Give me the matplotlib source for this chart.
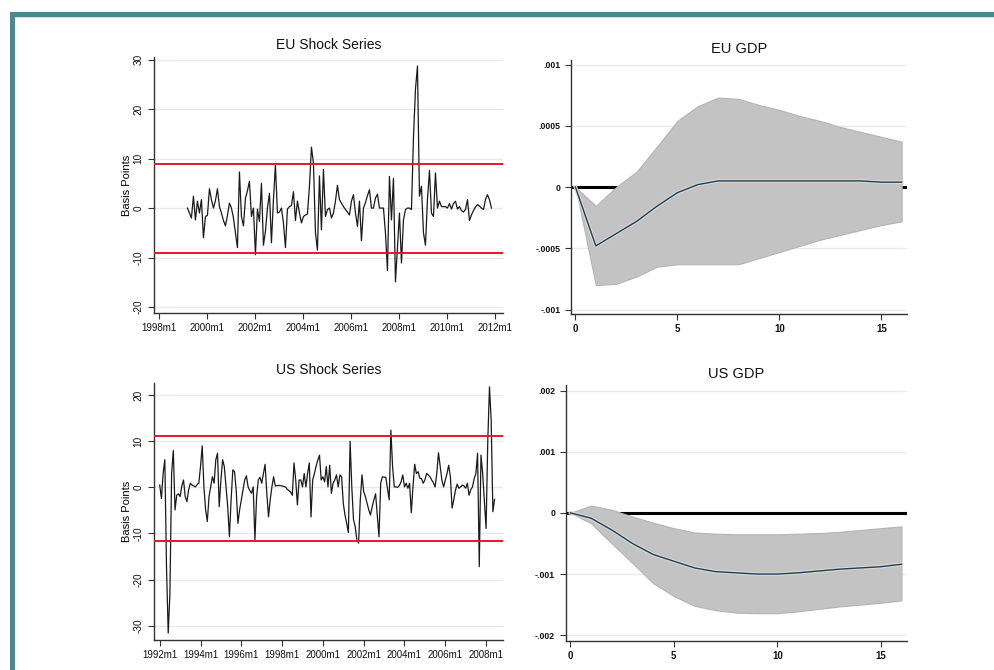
import numpy as np
import matplotlib
matplotlib.use("Agg")
import matplotlib.pyplot as plt
from matplotlib.patches import Rectangle
import matplotlib.patheffects as pe

plt.rcParams['font.family'] = ['Liberation Sans', 'DejaVu Sans']

# --- data ---
# EU shock series, monthly from 1999m3 (basis points)
eu_start = "1999m3"
eu_shock = [
    0, -1, -2, 2.4, -2.4, 1.4, -1, 1.7, -6, -1.7, -1.5,
    3.9, 1.7, 0, 1.5, 3.9, 0.3, -1, -2.5, -3.6, -1.5, 1, 0, -2, -5,
    -8, 7.3, -1.7, -3.6, 2, 3.5, 5.4, -1.7, 0, -9.4, -0.2,
    -2.7, 5, -7.5, -4.7, 0, 3, -7, 1.7, 8.7, -1,
    -0.8, 0, -3, -8, -0.2, 0.3, 0.5, 3.3, -2.5, 1.4, -1,
    -3, -1.7, -1.4, -1.2, 4.4, 12.3, 9.1, -5, -8.5, 6.5, -4.4,
    7.8, -1.7, -0.3, 0, -2, -1, 1.4, 4.6, 1.7, 1,
    0.3, -0.3, -0.8, -1.4, 1.4, 2.7, -1, -3.7, 1.4, -6.6, 0,
    1.1, 2.5, 3.7, 0, 0, 2, 2.8, 0, 0, 0, -5,
    -12.6, 6.4, -2.4, 6, -14.9, -7.8, -1, -11.1, -2.4, -0.3,
    0, 0, -0.3, 14.2, 24, 28.7, 2.4, 4.4, -5, -7.5,
    1.7, 7.6, -1, -1.7, 7.1, 0, 1.4, 0.3, 0.3, 0.3,
    0, 0.9, -0.2, 0.9, 1.4, -0.2, 0.3, -0.5, -0.8, -0.3, 1.7,
    -2.5, -1.4, -0.5, 0.2, 0.7, 0.4, 0, -0.3, 1.7, 2.7, 1.7, 0,
]
eu_bounds = [9.0, -9.1]
eu_xlabels = ["1998m1", "2000m1", "2002m1", "2004m1", "2006m1", "2008m1", "2010m1", "2012m1"]
eu_yticks = [-20, -10, 0, 10, 20, 30]

# US shock series, monthly from 1992m1 (basis points)
us_start = "1992m1"
us_shock = [
    0.5, -2.4, 3, 6, -17.5, -31.6, -23, 3, 8,
    -4.9, -1.7, -1.4, -2, 0.3, 1.6, -2, -3.1, -0.6, 0.9, 0.5, 0.3, 0.1, 0.6, 0.9,
    4.5, 9, 0.1, -4.9, -7.4, -2, 0.1, 2.3, 0.9, 6, 7.4, -4.2, 1.6, 6, 4.5, 0.1,
    -4.2, -10.7, -2.7, 3.8, 3.4, -0.6, -7.8, -4.9, -2.7, -0.6, 1.6, 2.5, 0.1, -0.7,
    -1.3, 0.1, -11.4, -2, 1.6, 2.2, 0.9, 3, 5, -1.3, -6.4, -2.7, 0.1, 2.3,
    0.3, 0.4, 0.4, 0.4, 0.3, 0.2, 0.1, -0.4, -0.7, -1, -1.7,
    5.3, 1.6, -3.8, 1.6, 1.6, 0.1, 3, 0.1, 3, 5.3, -6.4, 1.6, 3, 4.6, 5.9, 7,
    1.6, 2.3, 1.2, 4.5, 0.1, 4.8, -1.3, 0.9, 1.6, 2.7, 0.1, 2.7, 2.3, -3.5, -6,
    -7.8, -9.8, 10, 0.1, -7, -8.5, -11.4, -12.1, -2.7, 2.7, -0.9, -2, -3.5, -4.9,
    -6, -4.2, -2.7, -1.4, -6, -10.7, 0.9, 2.3, 2.2, 2.2, -0.2, -2.7, 12.4, 4.5,
    0.1, 0.1, 0, 0.4, 1.2, 2.7, 0.1, 0.9, -0.2, 0.9, -5.5, 0.1, 5, 3, 3.4, 2,
    1.9, 0.9, 1.6, 3, 2.7, 2.3, 1.6, 1, 0.1, 3, 7.5, 4.5, 1.6, 0.1, 1.6, 3, 4.8,
    2.3, -4.5, -2.7, -0.6, 0.7, -0.2, 0.1, 0.5, 0.3, -0.2, 0.9, -1.7, -0.5, 0.1,
    1.9, 3, 7.4, -17.2, 7, 3, -3, -8.9, 10, 21.8, 14.6, -5.3, -2.6,
]
us_bounds = [11.1, -11.6]
us_xlabels = ["1992m1", "1994m1", "1996m1", "1998m1", "2000m1", "2002m1", "2004m1", "2006m1", "2008m1"]
us_yticks = [-30, -20, -10, 0, 10, 20]

# impulse responses, horizons 0..16
horizon = list(range(17))
eu_irf = [0, -0.00048, -0.00038, -0.00028, -0.000156, -0.000046, 0.00002, 0.00005, 0.00005,
          0.00005, 0.00005, 0.00005, 0.00005, 0.00005, 0.00005, 0.00004, 0.00004]
eu_upper = [0, -0.000153, 0.0, 0.000126, 0.00033, 0.00054, 0.00066, 0.00073, 0.00072,
            0.00067, 0.00063, 0.00058, 0.00054, 0.00049, 0.00045, 0.00041, 0.00037]
eu_lower = [0, -0.0008, -0.00079, -0.00073, -0.00065, -0.00063, -0.00063, -0.00063, -0.00063,
            -0.00058, -0.00053, -0.00048, -0.00043, -0.00039, -0.00035, -0.00031, -0.00028]
eu_gdp_yticks = [-0.001, -0.0005, 0, 0.0005, 0.001]
eu_gdp_ylabels = ["-.001", "-.0005", "0", ".0005", ".001"]

us_irf = [0, -0.000087, -0.00028, -0.0005, -0.00068, -0.00079, -0.0009, -0.00096, -0.00098,
          -0.001, -0.001, -0.00098, -0.00095, -0.00092, -0.0009, -0.00088, -0.00084]
us_upper = [0, 0.00012, 0.00005, -0.00006, -0.00016, -0.00025, -0.00032, -0.00034, -0.00035,
            -0.00035, -0.00035, -0.00034, -0.00033, -0.00031, -0.00028, -0.00025, -0.00022]
us_lower = [0, -0.00017, -0.0005, -0.00082, -0.00115, -0.00136, -0.00152, -0.00159, -0.00163,
            -0.00164, -0.00164, -0.00161, -0.00157, -0.00153, -0.0015, -0.00147, -0.00143]
us_gdp_yticks = [-0.002, -0.001, 0, 0.001, 0.002]
us_gdp_ylabels = ["-.002", "-.001", "0", ".001", ".002"]
gdp_xticks = [0, 5, 10, 15]

GRID = '#e2ebf0'
AXC = '#333333'


def ym_to_month(s, base):
    # "1999m3" -> months since January of the base year
    y, m = s.split("m")
    return (int(y) - base) * 12 + int(m) - 1


def style_axes(ax):
    for side in ['top', 'right']:
        ax.spines[side].set_visible(False)
    for side in ['left', 'bottom']:
        ax.spines[side].set_color(AXC)
        ax.spines[side].set_linewidth(1.0)
    ax.tick_params(colors=AXC, length=4, width=0.8, labelcolor='#111111')
    ax.set_facecolor('white')


def shock_panel(rect, title, values, start, base, bounds, xlabels, yticks, xlim, ylim):
    ax = fig.add_axes(rect)
    style_axes(ax)
    x = ym_to_month(start, base) + np.arange(len(values))
    for yt in yticks:
        ax.axhline(yt, color=GRID, lw=1.0, zorder=0)
    ax.plot(x, values, color='#1a1a1a', lw=0.9, zorder=3)
    for b in bounds:
        ax.axhline(b, color='#e3182d', lw=1.4, zorder=4)
    ax.set_xticks([ym_to_month(l, base) for l in xlabels])
    ax.set_xticklabels(xlabels, fontsize=7)
    ax.set_yticks(yticks)
    ax.set_yticklabels([str(v) for v in yticks], fontsize=7.2, rotation=90, va='center')
    ax.set_xlim(*xlim)
    ax.set_ylim(*ylim)
    ax.set_ylabel("Basis Points", fontsize=8, labelpad=1)
    ax.set_title(title, fontsize=10, color='#111111', pad=6)
    return ax


def gdp_panel(rect, title, irf, lo, hi, yticks, ylabels, ylim):
    ax = fig.add_axes(rect)
    style_axes(ax)
    for yt in yticks:
        ax.axhline(yt, color=GRID, lw=1.0, zorder=0)
    ax.axhline(0, color='black', lw=2.2, zorder=1)
    ax.fill_between(horizon, lo, hi, color='#c3c3c3', edgecolor='#b4b4b4', lw=0.8, zorder=2)
    ax.plot(horizon, irf, color='#1d3d5c', lw=1.0, zorder=3,
            path_effects=[pe.Stroke(linewidth=2.6, foreground='#dcd9d0'), pe.Normal()])
    ax.set_xticks(gdp_xticks)
    ax.set_xticklabels([str(v) for v in gdp_xticks], fontsize=7, fontweight='bold')
    ax.set_yticks(yticks)
    ax.set_yticklabels(ylabels, fontsize=6.3, fontweight='bold')
    ax.set_xlim(-0.23, 16.25)
    ax.set_ylim(*ylim)
    ax.set_title(title, fontsize=10.5, color='#111111', pad=5)
    return ax


fig = plt.figure(figsize=(9.95, 6.7), dpi=100)
fig.patch.set_facecolor('white')

# teal frame on the top and left edges
fig.add_artist(Rectangle((0.010, 0.9746), 0.99, 0.0078, transform=fig.transFigure,
                         color='#4d8890', lw=0))
fig.add_artist(Rectangle((0.010, 0.0), 0.0052, 0.9824, transform=fig.transFigure,
                         color='#4d8890', lw=0))
fig.add_artist(Rectangle((0.0152, 0.9728), 0.985, 0.0018, transform=fig.transFigure,
                         color='#d2e2e8', lw=0))

shock_panel([0.1548, 0.5328, 0.3508, 0.382], "EU Shock Series", eu_shock, eu_start, 1998,
            eu_bounds, eu_xlabels, eu_yticks, (-2.7, 171.8), (-21.2, 30.5))
gdp_panel([0.5736, 0.5313, 0.3377, 0.379], "EU GDP", eu_irf, eu_lower, eu_upper,
          eu_gdp_yticks, eu_gdp_ylabels, (-0.001036, 0.001036))
shock_panel([0.1548, 0.0448, 0.3508, 0.384], "US Shock Series", us_shock, us_start, 1992,
            us_bounds, us_xlabels, us_yticks, (-3.35, 202), (-33.1, 22.7))
gdp_panel([0.5685, 0.0437, 0.3427, 0.3816], "US GDP", us_irf, us_lower, us_upper,
          us_gdp_yticks, us_gdp_ylabels, (-0.00209, 0.00209))

fig.savefig("out.png", dpi=100)
